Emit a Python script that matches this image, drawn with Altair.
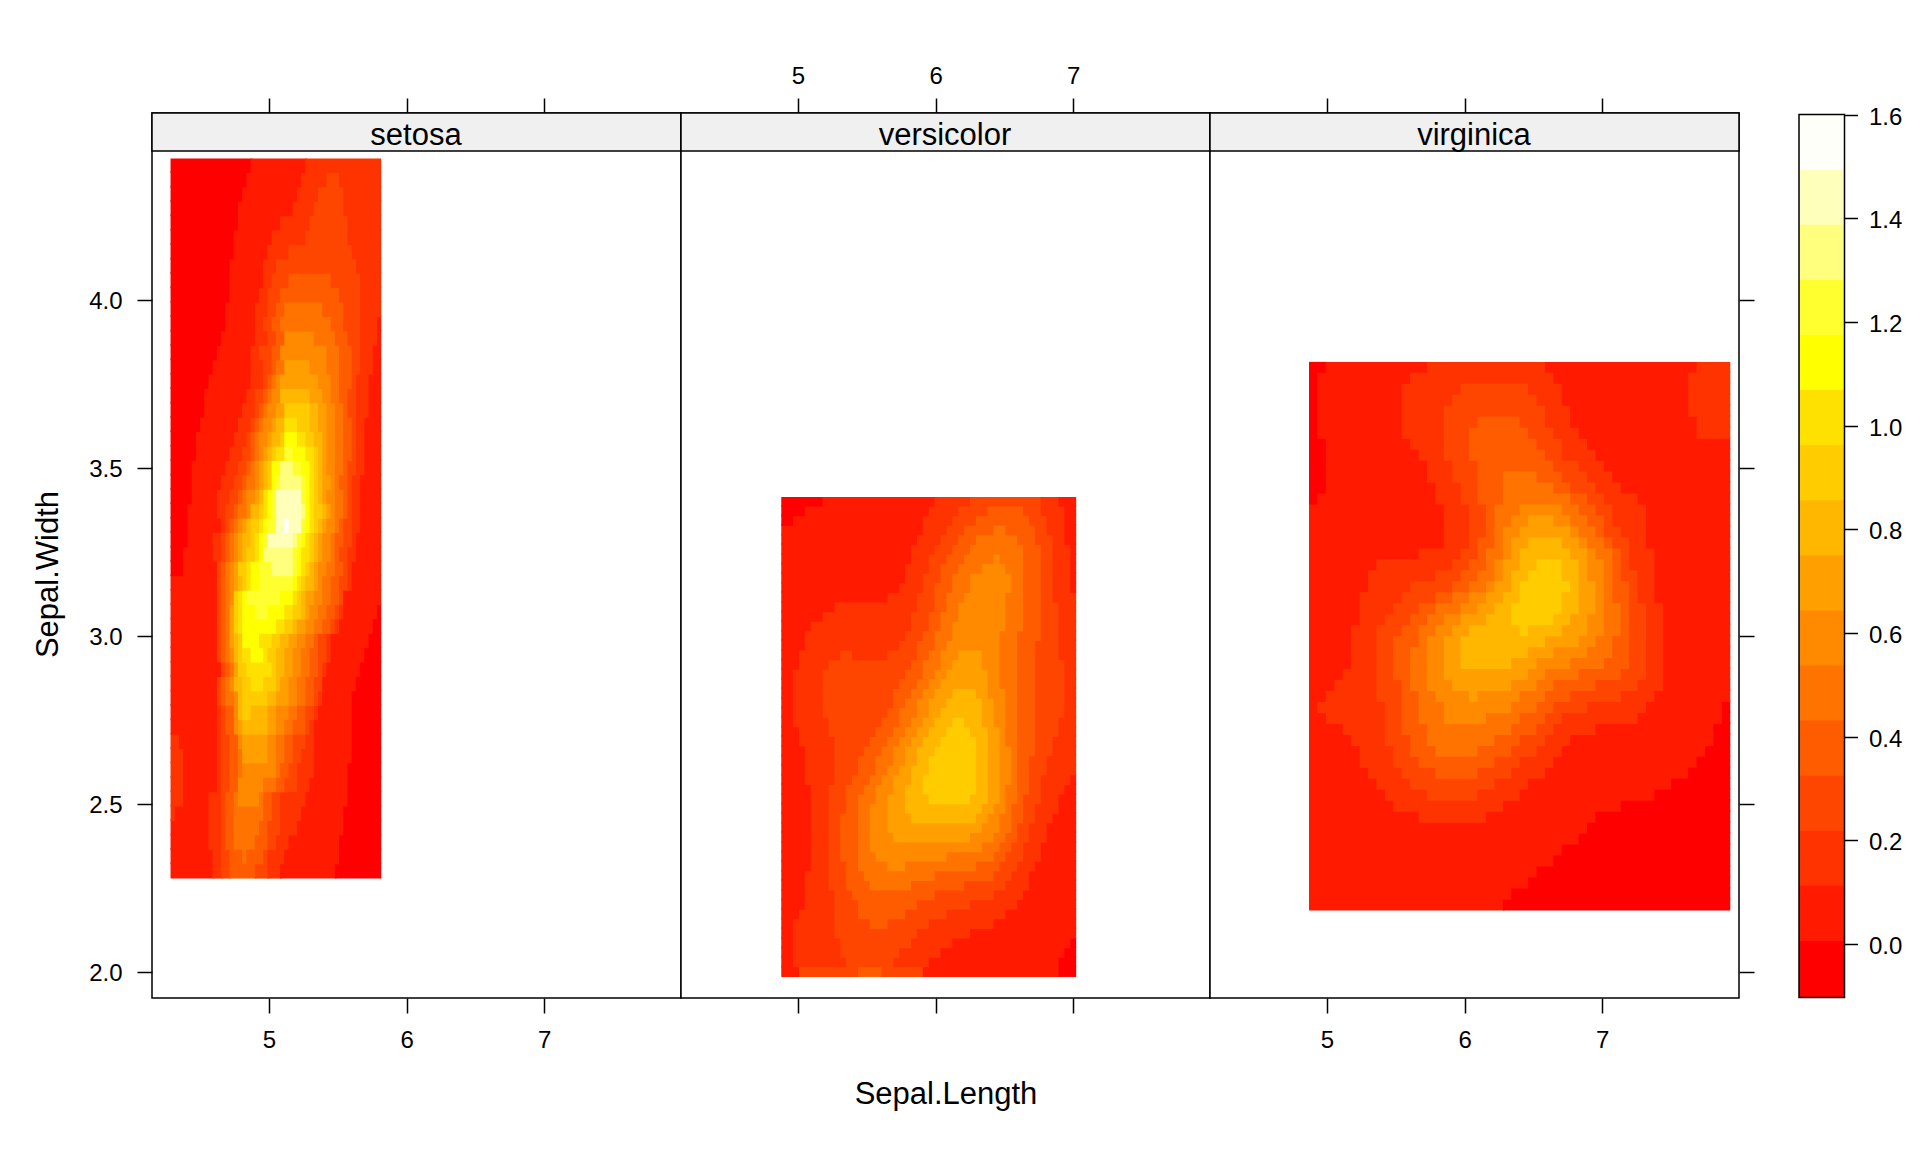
import altair as alt
import pandas as pd

FONT = "Liberation Sans"
SPECIES = ["setosa", "versicolor", "virginica"]
X_RANGES = {"setosa": (4.3, 5.8), "versicolor": (4.9, 7.0), "virginica": (4.9, 7.9)}
Y_RANGES = {"setosa": (2.3, 4.4), "versicolor": (2.0, 3.4), "virginica": (2.2, 3.8)}
X_DOMAIN = [4.15, 7.994]
Y_DOMAIN = [1.9231, 4.5571]
X_TICKS = [5, 6, 7]
Y_TICKS = [2.0, 2.5, 3.0, 3.5, 4.0]
BAR_TICKS = [0.0, 0.2, 0.4, 0.6, 0.8, 1.0, 1.2, 1.4, 1.6]
BAR_EDGES = [-0.103, 0.00625, 0.1125, 0.21875, 0.325, 0.43125, 0.5375, 0.64375, 0.75, 0.85625,
             0.9625, 1.06875, 1.175, 1.28125, 1.3875, 1.49375, 1.6]
COLORS = ["#ff0000", "#ff1a00", "#ff3300", "#ff4600", "#ff5c00", "#ff7300", "#ff8a00", "#ffa000",
          "#ffb700", "#ffcc00", "#ffe100", "#ffff00", "#ffff30", "#ffff7d", "#ffffbc", "#fffffa"]

# Each row, top to bottom: "level-endColumn" runs across the 50 grid columns.
SETOSA = """0-19 1-32 2-50
0-18 1-31 2-37 3-40 2-50
0-17 1-30 2-35 3-41 2-50
0-16 1-29 2-34 3-41 2-50
0-16 1-26 2-33 3-42 2-50
0-15 1-24 2-32 3-42 2-50
0-15 1-23 2-28 3-43 2-50
0-14 1-22 2-25 3-44 2-50
0-14 1-22 2-24 3-28 4-38 3-45 2-50
0-14 1-21 2-23 3-26 4-40 3-45 2-50
0-13 1-20 2-23 3-25 4-27 5-36 4-41 3-45 2-50
0-13 1-20 2-22 3-24 4-26 5-38 4-41 3-45 2-49 1-50
0-12 1-20 2-23 3-25 4-27 6-34 5-39 4-42 3-45 2-49 1-50
0-11 1-19 2-21 3-24 4-26 6-37 5-40 4-43 3-45 2-48 1-50
0-10 1-19 2-22 3-24 4-25 5-27 7-33 6-37 5-40 4-43 3-45 2-48 1-50
0-9 1-19 2-22 3-23 4-24 5-25 6-26 7-35 6-38 5-40 4-43 3-44 2-47 1-50
0-8 1-18 2-20 3-22 4-23 5-24 6-26 8-33 7-36 6-38 5-40 4-42 3-44 2-47 1-50
0-8 1-17 2-20 3-21 4-22 5-23 6-25 7-27 9-33 8-35 7-37 6-39 5-41 4-42 3-44 2-47 1-50
0-7 1-16 2-19 3-20 4-21 5-22 6-24 7-25 8-27 10-30 9-33 8-35 7-37 6-39 5-41 4-43 3-44 2-46 1-50
0-6 1-15 2-18 3-19 4-20 5-21 6-23 7-24 8-26 9-27 11-30 10-32 9-34 8-36 7-37 6-39 5-41 4-43 3-44 2-46 1-50
0-6 1-14 2-17 3-19 4-20 5-21 6-22 7-23 8-24 9-25 10-27 12-29 11-32 10-34 9-35 8-36 7-37 6-39 5-41 4-43 3-44 2-46 1-50
0-5 1-13 2-16 3-18 4-19 5-20 6-21 7-22 8-23 9-24 11-26 13-29 12-31 11-33 10-34 9-35 8-36 7-37 6-39 5-41 4-42 3-44 2-46 1-50
0-5 1-12 2-15 3-17 4-18 5-20 6-21 7-22 8-23 9-24 11-25 12-26 13-31 12-32 11-33 10-34 9-35 8-36 7-38 6-39 5-40 4-42 3-43 2-45 1-50
0-5 1-11 2-14 3-16 4-17 5-18 6-20 7-21 8-22 10-23 11-24 12-25 14-31 12-32 11-33 10-34 9-35 8-36 7-37 6-39 5-41 4-42 3-43 2-45 1-50
0-4 1-11 2-13 3-15 4-16 5-18 6-19 8-21 9-22 10-23 11-24 12-25 14-31 13-32 11-33 10-34 9-36 8-37 7-38 6-39 5-41 4-42 3-43 2-45 1-50
0-4 1-12 2-13 3-14 4-15 5-16 6-17 7-18 8-19 9-21 10-22 11-23 12-25 14-27 15-28 14-31 12-32 11-33 10-34 9-35 8-36 7-37 6-39 5-40 4-41 3-43 2-45 1-50
0-4 1-10 2-12 3-13 4-14 5-15 6-16 7-17 8-19 9-20 10-21 11-22 12-23 14-29 13-30 12-31 11-32 10-33 9-34 8-35 7-36 6-38 5-39 4-41 3-43 2-44 1-50
0-3 1-10 2-12 3-13 4-14 5-15 6-16 7-17 8-18 9-20 10-21 11-22 13-29 12-30 11-31 10-33 9-34 8-35 7-36 6-38 5-39 4-40 3-42 2-44 1-50
0-3 1-11 3-12 4-13 5-14 6-15 7-16 9-18 10-19 11-21 12-24 13-29 12-30 11-31 10-32 9-33 8-34 7-35 6-37 5-39 4-41 3-42 2-43 1-50
1-11 3-12 4-13 5-14 6-15 7-16 8-17 9-18 10-19 11-21 12-29 11-30 10-31 9-32 8-34 7-35 6-36 5-38 4-40 3-42 2-43 1-50
1-11 3-12 4-13 5-14 6-15 9-16 10-17 11-18 12-26 11-29 10-30 9-31 8-32 7-34 6-36 5-38 4-40 3-41 1-50
1-11 3-12 4-13 5-14 7-15 9-16 10-17 11-20 12-23 11-27 10-29 9-31 8-32 7-33 6-35 5-37 4-39 3-40 2-41 1-49 0-50
1-11 3-12 4-13 5-14 7-15 9-16 10-17 11-25 10-27 9-29 8-30 7-32 6-34 5-36 4-38 3-39 2-40 1-48 0-50
1-11 3-12 4-13 5-14 7-15 8-16 9-17 11-21 10-24 9-26 8-28 7-30 6-32 5-34 4-35 3-37 2-38 1-47 0-50
1-11 3-12 4-13 5-14 6-15 8-16 9-17 10-19 11-22 10-23 9-25 8-27 7-29 6-31 5-33 4-35 3-37 2-38 1-46 0-50
1-12 3-13 4-14 5-15 7-16 9-18 10-24 9-25 8-27 7-29 6-31 5-33 4-35 3-36 2-37 1-45 0-50
1-11 3-12 4-13 5-14 6-15 8-17 9-19 10-22 9-25 8-26 7-28 6-30 5-32 4-34 3-36 1-44 0-50
1-11 3-12 4-13 5-15 6-16 8-17 9-23 8-25 7-28 6-30 5-32 4-34 3-35 2-36 1-43 0-50
1-11 2-12 3-13 4-15 6-16 8-17 9-19 8-23 7-25 6-28 5-30 4-32 3-34 2-35 1-43 0-50
1-11 2-12 3-13 4-15 6-16 7-17 8-23 7-25 6-27 5-29 4-32 3-33 2-34 1-43 0-50
2-2 1-11 2-12 3-14 4-16 6-17 7-23 6-25 5-27 4-29 3-32 2-34 1-43 0-50
2-3 1-11 2-12 3-14 4-16 5-17 7-23 6-25 5-27 4-29 3-31 2-34 1-43 0-50
2-3 1-11 2-12 3-14 4-16 5-17 6-25 5-26 4-28 3-30 2-34 1-42 0-50
2-3 1-11 2-12 3-14 4-16 6-22 5-25 4-27 3-30 2-33 1-42 0-50
2-3 1-9 2-12 3-13 4-15 5-16 6-21 5-22 4-24 3-26 2-32 1-42 0-50
2-1 1-9 2-12 3-13 4-15 5-22 4-24 3-26 2-31 1-41 0-50
1-9 2-12 3-13 4-15 5-21 4-23 3-26 2-30 1-41 0-50
1-9 2-12 3-13 4-15 5-20 4-23 3-25 2-28 1-40 0-50
1-10 2-12 3-14 4-17 5-18 4-22 3-23 2-27 1-40 0-50
1-10 2-12 3-14 4-20 3-23 2-26 1-39 0-50"""

VERSICOLOR = """0-7 1-26 2-32 3-44 2-47 1-50
0-4 1-25 2-30 3-35 4-41 3-44 2-48 1-50
0-2 1-24 2-29 3-33 4-42 3-45 2-48 1-50
1-24 2-28 3-31 4-36 5-38 4-43 3-45 2-48 1-50
1-23 2-27 3-30 4-33 5-40 4-43 3-46 2-48 1-50
1-22 2-26 3-29 4-32 5-41 4-44 3-46 2-49 1-50
1-22 2-25 3-28 4-31 5-36 6-37 5-41 4-44 3-46 2-49 1-50
1-21 2-25 3-27 4-30 5-34 6-38 5-41 4-44 3-46 2-49 1-50
1-21 2-24 3-27 4-29 5-32 6-39 5-41 4-44 3-46 2-49 1-50
1-20 2-24 3-26 4-29 5-32 6-39 5-41 4-44 3-46 2-49 1-50
1-18 2-23 3-26 4-28 5-31 6-38 5-41 4-44 3-46 2-50
1-9 2-23 3-26 4-28 5-30 6-38 5-41 4-44 3-47 2-50
1-7 2-22 3-25 4-27 5-30 6-38 5-41 4-44 3-47 2-50
1-5 2-22 3-25 4-27 5-29 6-38 5-41 4-44 3-47 2-50
1-4 2-21 3-24 4-26 5-29 6-37 5-40 4-44 3-47 2-50
1-4 2-20 3-23 4-26 5-28 6-37 5-40 4-43 3-47 2-50
1-3 2-10 3-12 2-18 3-23 4-25 5-27 6-30 7-34 6-37 5-40 4-43 3-47 2-50
1-3 2-8 3-22 4-24 5-27 6-29 7-34 6-37 5-40 4-43 3-48 2-50
1-2 2-7 3-21 4-24 5-26 6-28 7-35 6-37 5-40 4-43 3-48 2-50
1-2 2-7 3-20 4-23 5-25 6-27 7-35 6-37 5-40 4-43 3-48 2-50
1-2 2-7 3-19 4-22 5-24 6-26 7-29 8-33 7-35 6-38 5-40 4-43 3-48 2-50
1-2 2-7 3-19 4-21 5-23 6-25 7-28 8-34 7-36 6-38 5-40 4-43 3-48 2-50
1-2 2-7 3-18 4-20 5-23 6-25 7-27 8-34 7-36 6-38 5-40 4-43 3-48 2-50
1-2 2-8 3-17 4-20 5-22 6-24 7-26 8-29 9-31 8-34 7-36 6-38 5-40 4-43 3-47 2-50
1-3 2-8 3-16 4-19 5-21 6-23 7-25 8-28 9-32 8-35 7-37 6-38 5-40 4-43 3-47 2-50
1-3 2-9 3-15 4-18 5-20 6-22 7-24 8-27 9-33 8-35 7-37 6-38 5-40 4-43 3-46 2-50
1-4 2-9 3-14 4-17 5-19 6-21 7-23 8-26 9-33 8-35 7-37 6-39 5-40 4-43 3-46 2-50
1-4 2-9 3-13 4-16 5-19 6-21 7-23 8-25 9-33 8-35 7-37 6-39 5-40 4-42 3-45 2-50
1-4 2-9 3-13 4-16 5-18 6-20 7-22 8-25 9-33 8-35 7-37 6-39 5-40 4-42 3-45 2-50
1-4 2-9 3-12 4-15 5-17 6-19 7-22 8-24 9-33 8-35 7-37 6-39 5-40 4-42 3-44 2-49 1-50
1-5 2-8 3-11 4-14 5-16 6-19 7-21 8-24 9-33 8-35 7-37 6-38 5-40 4-42 3-44 2-48 1-50
1-5 2-8 3-11 4-13 5-16 6-18 7-21 8-25 9-32 8-35 7-37 6-38 5-40 4-41 3-44 2-47 1-50
1-5 2-8 3-11 4-13 5-15 6-18 7-21 8-34 7-36 6-38 5-39 4-41 3-43 2-47 1-50
1-5 2-8 3-10 4-13 5-15 6-18 7-22 8-33 7-35 6-37 5-39 4-41 3-43 2-46 1-50
1-5 2-8 3-10 4-13 5-15 6-18 7-34 6-37 5-39 4-40 3-42 2-45 1-50
1-5 2-8 3-10 4-13 5-15 6-19 7-32 6-36 5-38 4-40 3-42 2-45 1-50
1-5 2-8 3-10 4-13 5-15 6-34 5-37 4-39 3-41 2-44 1-50
1-5 2-8 3-10 4-13 5-16 6-28 5-36 4-38 3-41 2-44 1-50
1-5 2-8 3-11 4-13 5-18 6-21 5-33 4-37 3-40 2-43 1-50
1-4 2-8 3-11 4-14 5-26 4-36 3-39 2-42 1-50
1-4 2-8 3-11 4-15 5-22 4-31 3-38 2-42 1-50
1-4 2-9 3-12 4-26 3-36 2-41 1-50
1-4 2-9 3-13 4-23 3-32 2-40 1-50
1-3 2-9 3-13 4-21 3-28 2-38 1-50
1-2 2-9 3-15 4-18 3-25 2-36 1-50
1-2 2-9 3-23 2-32 1-50
1-2 2-10 3-22 2-29 1-49 0-50
1-2 2-10 3-20 2-27 1-48 0-50
1-2 2-11 3-19 2-25 1-47 0-50
1-3 3-13 4-17 3-24 1-47 0-50"""

VIRGINICA = """0-2 1-14 2-28 1-46 2-50
0-1 1-12 2-29 1-45 2-50
0-1 1-11 2-18 3-26 2-30 1-45 2-50
0-1 1-11 2-17 3-27 2-30 1-45 2-50
0-1 1-11 2-16 3-28 2-31 1-45 2-50
0-1 1-11 2-16 3-20 4-25 3-28 2-31 1-46 2-50
0-1 1-11 2-16 3-19 4-26 3-29 2-32 1-46 2-50
0-2 1-12 2-16 3-19 4-27 3-30 2-33 1-50
0-2 1-13 2-16 3-19 4-28 3-30 2-34 1-50
0-2 1-14 2-17 3-20 4-29 3-32 2-35 1-50
0-2 1-14 2-17 3-20 4-23 5-27 4-30 3-33 2-36 1-50
0-2 1-15 2-18 3-20 4-23 5-29 4-31 3-34 2-37 1-50
0-1 1-15 2-18 3-20 4-23 5-31 4-33 3-35 2-39 1-50
1-16 2-19 3-21 4-22 5-25 6-30 5-32 4-34 3-36 2-40 1-50
1-16 2-19 3-21 4-22 5-24 6-26 7-29 6-31 5-33 4-35 3-36 2-40 1-50
1-16 2-19 3-21 4-22 5-23 6-25 7-31 6-32 5-34 4-35 3-37 2-40 1-50
1-16 2-19 3-20 4-22 5-23 6-24 7-26 8-30 7-32 6-33 5-35 4-36 3-38 2-40 1-50
1-13 2-18 3-20 4-21 5-23 6-24 7-25 8-31 7-33 6-34 5-36 4-37 3-38 2-41 1-50
1-8 2-17 3-19 4-21 5-22 6-23 7-25 8-27 9-30 8-32 7-33 6-35 5-36 4-37 3-38 2-41 1-50
1-7 2-15 3-18 4-20 5-22 6-23 7-24 8-26 9-30 8-32 7-33 6-35 5-36 4-37 3-39 2-41 1-50
1-7 2-12 3-17 4-19 5-21 6-22 7-24 8-25 9-31 8-32 7-34 6-35 5-36 4-38 3-39 2-41 1-50
1-6 2-11 3-15 4-17 5-19 6-21 7-23 8-25 9-30 8-32 7-34 6-35 5-36 4-38 3-39 2-41 1-50
1-6 2-10 3-13 4-15 5-18 6-20 7-22 8-24 9-30 8-32 7-34 6-35 5-37 4-38 3-40 2-42 1-50
1-6 2-9 3-12 4-14 5-16 6-18 7-21 8-24 9-29 8-31 7-33 6-35 5-37 4-38 3-40 2-42 1-50
1-5 2-8 3-11 4-13 5-15 6-17 7-19 8-25 9-26 8-30 7-33 6-35 5-37 4-38 3-40 2-42 1-50
1-5 2-8 3-10 4-13 5-14 6-16 7-18 8-28 7-32 6-34 5-36 4-38 3-40 2-42 1-50
1-5 2-8 3-10 4-12 5-14 6-16 7-18 8-26 7-29 6-33 5-36 4-38 3-40 2-42 1-50
1-5 2-8 3-10 4-12 5-14 6-16 7-18 8-24 7-27 6-31 5-35 4-38 3-40 2-42 1-50
1-4 2-8 3-10 4-12 5-14 6-16 7-26 6-28 5-32 4-37 3-40 2-42 1-50
1-3 2-8 3-11 4-12 5-14 6-17 7-24 6-27 5-29 4-34 3-39 2-42 1-50
1-2 2-8 3-11 4-13 5-15 6-19 7-20 6-25 5-28 4-31 3-37 2-41 1-50
1-1 2-9 3-11 4-13 5-16 6-24 5-27 4-29 3-33 2-40 1-49 0-50
1-2 2-9 3-11 4-13 5-16 6-21 5-25 4-28 3-30 2-39 1-49 0-50
1-4 2-9 3-11 4-14 5-24 4-27 3-29 2-34 1-48 0-50
1-5 2-9 3-12 4-14 5-22 4-25 3-28 2-31 1-48 0-50
1-6 2-10 3-12 4-15 5-20 4-24 3-27 2-30 1-47 0-50
1-6 2-10 3-13 4-22 3-25 2-29 1-46 0-50
1-7 2-11 3-15 4-20 3-24 2-28 1-45 0-50
1-8 2-12 3-22 2-26 1-43 0-50
1-9 2-14 3-20 2-25 1-41 0-50
1-10 2-23 1-37 0-50
1-13 2-21 1-34 0-50
1-33 0-50
1-32 0-50
1-30 0-50
1-29 0-50
1-27 0-50
1-26 0-50
1-24 0-50
1-23 0-50"""

GRIDS = {"setosa": SETOSA, "versicolor": VERSICOLOR, "virginica": VIRGINICA}
NCOL = 50
LEVELS = list(range(len(COLORS)))
PANEL_W, PANEL_H = 529, 885
STROKE = 1.5
# Neighbouring runs lap under the next one painted, so no white shows through antialiased edges.
X_OVERLAP = 0.012
Y_OVERLAP = 0.005


def build_cells(name):
    xmin, xmax = X_RANGES[name]
    ymin, ymax = Y_RANGES[name]
    rows = GRIDS[name].splitlines()
    dx = (xmax - xmin) / (NCOL - 1)
    dy = (ymax - ymin) / (len(rows) - 1)
    out = []
    for r in range(len(rows) - 1, -1, -1):   # bottom row first, upper rows paint over the overlap
        ytop = ymax + dy / 2 - r * dy
        y2 = ytop + (Y_OVERLAP if r > 0 else 0)
        start = 0
        for run in rows[r].split():
            lvl, end = (int(v) for v in run.split("-"))
            x2 = xmin - dx / 2 + end * dx + (X_OVERLAP if end < NCOL else 0)
            out.append({"x": xmin - dx / 2 + start * dx, "x2": x2,
                        "y": ytop - dy, "y2": y2, "level": lvl})
            start = end
    return pd.DataFrame(out)


color = alt.Color("level:O", scale=alt.Scale(domain=LEVELS, range=COLORS), legend=None)
xscale = alt.Scale(domain=X_DOMAIN, nice=False, zero=False)
yscale = alt.Scale(domain=Y_DOMAIN, nice=False, zero=False)
base_axis = dict(domain=False, grid=False, ticks=True, tickColor="black", tickWidth=STROKE,
                 tickSize=15, labelFont=FONT, labelFontSize=24, labelColor="black",
                 titleFont=FONT, titleFontSize=31, titleFontWeight="normal", titleColor="black")


def panel(name, x_bottom_labels, x_top_labels, y_axis):
    bottom = dict(base_axis, orient="bottom", values=X_TICKS, labels=x_bottom_labels,
                  labelPadding=15, title=None)
    if name == "versicolor":
        bottom.update(title="Sepal.Length", titleY=96, titleBaseline="middle")
    top = dict(base_axis, orient="top", values=X_TICKS, labels=x_top_labels,
               labelPadding=10, title=None)
    heat = alt.Chart(build_cells(name)).mark_rect().encode(
        x=alt.X("x:Q", scale=xscale, axis=alt.Axis(**bottom)),
        x2="x2:Q",
        y=alt.Y("y:Q", scale=yscale, axis=y_axis),
        y2="y2:Q",
        color=color,
    )
    label_df = pd.DataFrame({"name": [name]})
    strip = alt.Chart(label_df).mark_rect(fill="#f0f0f0", stroke="black", strokeWidth=STROKE).encode(
        x=alt.value(0), x2=alt.value(PANEL_W), y=alt.value(0), y2=alt.value(38))
    text = alt.Chart(label_df).mark_text(font=FONT, fontSize=31, color="black", baseline="middle").encode(
        x=alt.value(PANEL_W / 2 - 0.5), y=alt.value(23), text="name:N")
    ticks_df = pd.DataFrame({"x": X_TICKS, "y": Y_TICKS[:3]})
    top_axis = alt.Chart(ticks_df).mark_point(opacity=0).encode(
        x=alt.X("x:Q", scale=xscale, axis=alt.Axis(**top)),
        y=alt.Y("y:Q", scale=yscale, axis=y_axis),
    )
    return alt.layer(heat, strip, text, top_axis).resolve_axis(x="independent").properties(
        width=PANEL_W, height=PANEL_H,
        view=alt.ViewBackground(stroke="black", strokeWidth=STROKE, fill="white"))


left_axis = alt.Axis(**dict(base_axis, orient="left", values=Y_TICKS, format=".1f", labelPadding=15,
                            labelOffset=1, title="Sepal.Width", titleX=-104, titleY=461,
                            titleBaseline="middle"))
right_axis = alt.Axis(**dict(base_axis, orient="right", values=Y_TICKS, labels=False, title=None))

p1 = panel("setosa", True, False, left_axis)
p2 = panel("versicolor", False, True, None)
p3 = panel("virginica", True, False, right_axis)

bar_df = pd.DataFrame({"y": BAR_EDGES[:-1],
                       "y2": [e + 0.004 for e in BAR_EDGES[1:-1]] + [BAR_EDGES[-1]],
                       "level": LEVELS})
bar_scale = alt.Scale(domain=[-0.1038, 1.603], nice=False, zero=False)
bar_axis = alt.Axis(**dict(base_axis, orient="right", values=BAR_TICKS, format=".1f",
                           tickSize=13, labelPadding=11, labelOffset=2.5, title=None))
bar = alt.Chart(bar_df).mark_rect().encode(
    x=alt.value(60), x2=alt.value(105.5),
    y=alt.Y("y:Q", scale=bar_scale, axis=bar_axis),
    y2="y2:Q",
    color=color,
)
bar_box_df = pd.DataFrame({"y": [BAR_EDGES[0]], "y2": [BAR_EDGES[-1]]})
bar_box = alt.Chart(bar_box_df).mark_rect(fill=None, stroke="black", strokeWidth=STROKE).encode(
    x=alt.value(60), x2=alt.value(105.5),
    y=alt.Y("y:Q", scale=bar_scale, axis=bar_axis), y2="y2:Q")
colorbar = alt.layer(bar, bar_box).properties(
    width=105.5, height=PANEL_H, view=alt.ViewBackground(stroke=None))

chart = alt.hconcat(p1, p2, p3, colorbar).properties(
    spacing=0, bounds="flush", background="white",
    padding={"left": 23, "top": 55, "right": 5, "bottom": 5},
)
chart.save("out.html", embed_options={"renderer": "svg", "actions": False})
